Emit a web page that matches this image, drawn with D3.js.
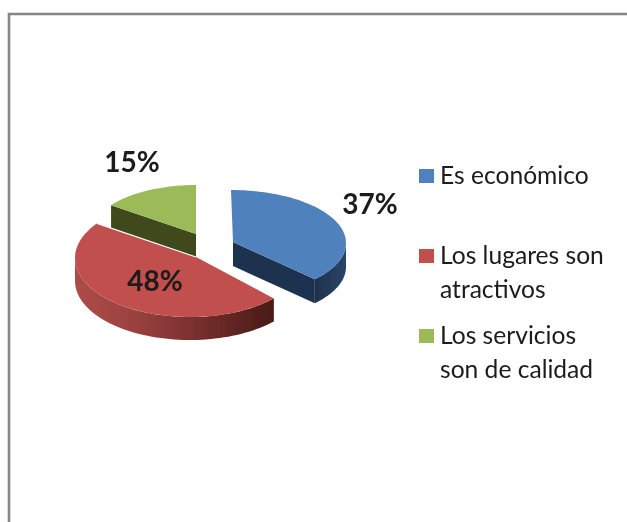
<!DOCTYPE html>
<html><head><meta charset="utf-8">
<script src="https://cdn.jsdelivr.net/npm/d3@7"></script>
<style>html,body{margin:0;padding:0;background:#fff}svg{display:block}text{font-family:Lato,"Open Sans",sans-serif;fill:#1a1a1a}</style>
</head><body><svg id="c" width="627" height="522"></svg>
<script>
const categories = ["Es económico","Los lugares son atractivos","Los servicios son de calidad"];
const values = [37,48,15];
const valueLabels = ["37%","48%","15%"];
const legendLines = [["Es económico"],["Los lugares son","atractivos"],["Los servicios","son de calidad"]];
const colors = ["#4f81bd","#c0504d","#9bbb59"];
const cutColors = ["#1f334f","#4a1c1a","#3f4a1e"];

// exploded-slice layout (ellipse centre, radii, apex) - perspective differs per slice
const layout = [
 {cx:231,cy:243,rx:115,ry:53,ax:233,ay:242,depth:24},
 {cx:190,cy:258,rx:115,ry:59,ax:196,ay:257,depth:23},
 {cx:196,cy:234,rx:105,ry:49,ax:196,ay:234,depth:23}
];
const labelPos = [[370,204],[155,281],[132,162]];
const legendY = [184,264,344];

const svg = d3.select("#c");
const defs = svg.append("defs");
defs.append("filter").attr("id","soft").attr("x","-5%").attr("y","-5%").attr("width","110%").attr("height","110%")
 .append("feGaussianBlur").attr("stdDeviation",0.55);
const g1 = defs.append("linearGradient").attr("id","redWall").attr("gradientUnits","userSpaceOnUse")
 .attr("x1",75).attr("x2",272).attr("y1",0).attr("y2",0);
[[0,"#ad4c49"],[0.3,"#9a4240"],[0.6,"#7a302e"],[1,"#4a1a18"]].forEach(s=>g1.append("stop").attr("offset",s[0]).attr("stop-color",s[1]));
const g2 = defs.append("linearGradient").attr("id","blueWall").attr("gradientUnits","userSpaceOnUse")
 .attr("x1",317).attr("x2",346).attr("y1",0).attr("y2",0);
[[0,"#1f334f"],[1,"#2a4568"]].forEach(s=>g2.append("stop").attr("offset",s[0]).attr("stop-color",s[1]));

// frame
svg.append("path").attr("d",(()=>{const p=d3.path();p.moveTo(9,522);p.lineTo(9,14);p.lineTo(627,14);return p.toString();})())
 .attr("fill","none").attr("stroke","#858585").attr("stroke-width",2.6);

const color = d3.scaleOrdinal().domain(categories).range(colors);
const arcs = d3.pie().sort(null).value(d=>d)(values);
const line = d3.line();
const pt = (l,a,dy=0)=>[l.cx+l.rx*Math.sin(a), l.cy-l.ry*Math.cos(a)+dy];
const samples = (a0,a1)=>{const n=60;return d3.range(n+1).map(i=>a0+(a1-a0)*i/n);};

const pie = svg.append("g").attr("filter","url(#soft)");
const order=[2,0,1];
order.forEach(i=>{
  const a=arcs[i], l=layout[i], g=pie.append("g");
  const s=a.startAngle,e=a.endAngle;
  const top=samples(s,e).map(t=>pt(l,t));
  if(i===0){
    const w=samples(Math.PI/2,e);
    g.append("path").attr("d",line(w.map(t=>pt(l,t)).concat(w.slice().reverse().map(t=>pt(l,t,l.depth))))+"Z").attr("fill","url(#blueWall)");
    const c=pt(l,e);
    g.append("path").attr("d",line([[l.ax,l.ay],c,[c[0],c[1]+l.depth],[l.ax,l.ay+l.depth]])+"Z").attr("fill",cutColors[0]);
  }
  if(i===1){
    const w=samples(s,3*Math.PI/2);
    g.append("path").attr("d",line(w.map(t=>pt(l,t)).concat(w.slice().reverse().map(t=>pt(l,t,l.depth))))+"Z").attr("fill","url(#redWall)");
  }
  if(i===2){
    const c=pt(l,s);
    g.append("path").attr("d",line([c,[l.ax,l.ay],[l.ax,l.ay+l.depth],[c[0],c[1]+l.depth]])+"Z").attr("fill",cutColors[2]);
  }
  g.append("path").attr("d",line([[l.ax,l.ay]].concat(top))+"Z").attr("fill",color(categories[i]));
  if(i===1){
    g.append("path").attr("d",line([pt(l,e),[l.ax,l.ay]])).attr("fill","none").attr("stroke","#fff").attr("stroke-width",1.2);
  }
});

const txt = svg.append("g").attr("filter","url(#soft)");
valueLabels.forEach((t,i)=>{
  txt.append("text").attr("x",labelPos[i][0]).attr("y",labelPos[i][1]+10).attr("text-anchor","middle")
   .attr("font-size",28).attr("font-weight",700).text(t);
});
categories.forEach((c,i)=>{
  svg.append("rect").attr("x",419).attr("y",legendY[i]-15).attr("width",15).attr("height",14).attr("fill",color(c));
  const tx=txt.append("text").attr("font-size",24.6);
  legendLines[i].forEach((s,j)=>tx.append("tspan").attr("x",440).attr("y",legendY[i]+j*33.5).text(s));
});
</script></body></html>
